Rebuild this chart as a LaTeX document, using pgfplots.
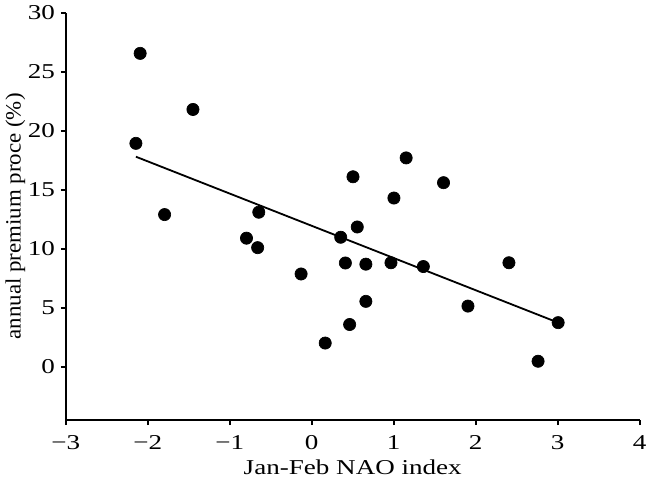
\documentclass[border=0pt]{standalone}
\usepackage{fontspec}
\setmainfont{Liberation Serif}[FakeStretch=1.28]
\newfontfamily\ylabfont{Liberation Serif}[FakeStretch=1.05]
\usepackage{pgfplots}
\pgfplotsset{compat=1.18}
\begin{document}
\begin{tikzpicture}
\begin{axis}[
  scale only axis,
  width=347.4pt, height=246.6pt,
  xmin=-3, xmax=4, ymin=-4.5, ymax=30,
  axis x line*=bottom, axis y line*=left,
  axis line style={line width=1.1pt},
  tick align=outside, major tick length=3pt,
  tick style={line width=1.1pt, black},
  xtick={-3,-2,-1,0,1,2,3,4},
  xticklabels={−3,−2,−1,0,1,2,3,4},
  ytick={0,5,10,15,20,25,30},
  /pgf/number format/assume math mode=true,
  font=\fontsize{12.8}{15}\selectfont,
  xticklabel style={yshift=-3pt},
  xlabel={Jan-Feb NAO index},
  ylabel={\ylabfont\fontsize{13.2}{15}\selectfont annual premium proce (\%)},
  xlabel style={at={(axis description cs:0.5,0)}, anchor=center, yshift=-28.8pt},
  ylabel style={at={(axis description cs:0,0.5)}, anchor=center, yshift=30.5pt},
  clip=false,
]
\addplot[only marks, mark=*, mark size=3.7pt, black] coordinates {
(-2.093,26.55) (-2.145,18.93) (-1.449,21.8) (-1.795,12.9)
(-0.646,13.1) (-0.796,10.9) (-0.66,10.1) (-0.13,7.87)
(0.164,2.02) (0.353,10.98) (0.41,8.8) (0.462,3.59)
(0.503,16.1) (0.555,11.85) (0.66,8.7) (0.66,5.55)
(0.966,8.82) (1.002,14.3) (1.151,17.7) (1.361,8.5)
(1.607,15.6) (1.905,5.15) (2.405,8.82) (2.76,0.48)
(3.005,3.75)
};
\addplot[black, line width=1.1pt] coordinates {(-2.145,17.8) (3.005,3.75)};
\end{axis}
\end{tikzpicture}
\end{document}
